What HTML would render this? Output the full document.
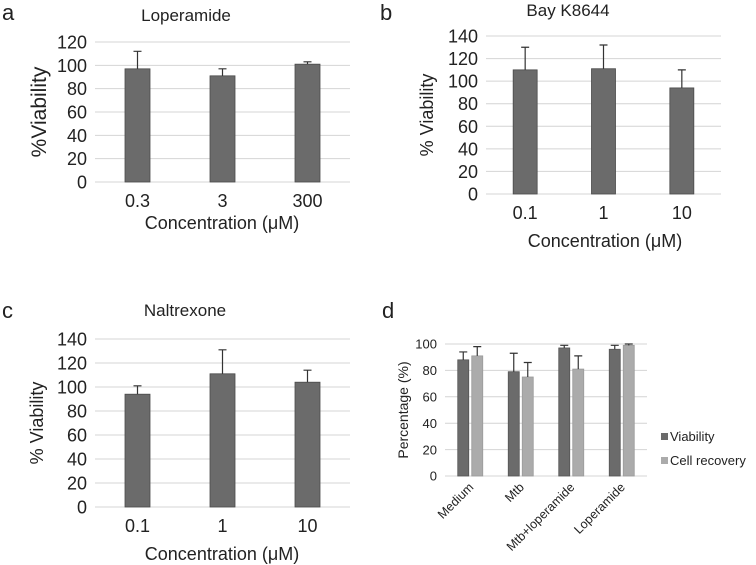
<!DOCTYPE html>
<html><head><meta charset="utf-8"><style>
body{margin:0;background:#fff;}
svg{display:block;font-family:"Liberation Sans",Arial,sans-serif;}
</style></head><body>
<svg id="fig" width="756" height="565"></svg>
<script>
const catsA=["0.3","3","300"];const valsA=[97,91,101];const errA=[112,97,103];
const catsB=["0.1","1","10"];const valsB=[110,111,94];const errB=[130,132,110];
const catsC=["0.1","1","10"];const valsC=[94,111,104];const errC=[101,131,114];
const catsD=["Medium","Mtb","Mtb+loperamide","Loperamide"];
const viabD=[88,79,97,96];const viabErrD=[94,93,99,99];
const recD=[91,75,81,99];const recErrD=[98,86,91,100];
const ticksA=[0,20,40,60,80,100,120];const ticksB=[0,20,40,60,80,100,120,140];const ticksD=[0,20,40,60,80,100];

const NS="http://www.w3.org/2000/svg";const svg=document.getElementById('fig');
function el(t,a,p){const e=document.createElementNS(NS,t);for(const k in a)e.setAttribute(k,a[k]);(p||svg).appendChild(e);return e;}
function txt(s,a,p){const e=el('text',a,p);e.textContent=s;return e;}

function panel(o){
  const g=el('g',{});
  
  
  const y=v=>o.y0-(v/o.max)*(o.y0-o.yTop);
  o.ticks.forEach(t=>{
    const l=el('line',{x1:o.x0,x2:o.x1,y1:y(t),y2:y(t),stroke:'#d4d4d4','stroke-width':1},g);
    
    
    const tl=txt(String(t),{x:o.x0-8,y:y(t)+o.tf*0.36,'text-anchor':'end','font-size':o.tf,fill:'#222'},g);
    
    
  });
  const n=o.cats.length,step=(o.x1-o.x0)/n;
  o.series.forEach((s,si)=>{
    o.cats.forEach((c,i)=>{
      const cx=o.x0+step*(i+0.5)+s.off;
      const b=el('rect',{x:cx-o.bw/2,y:y(s.vals[i]),width:o.bw,height:y(0)-y(s.vals[i]),fill:s.color,stroke:s.stroke,'stroke-width':0.8},g);
      
      
      const e=el('path',{d:`M${cx} ${y(s.vals[i])}V${y(s.err[i])}M${cx-4} ${y(s.err[i])}H${cx+4}`,stroke:'#333','stroke-width':1.2,fill:'none'},g);
      
      
    });
  });
  o.cats.forEach((c,i)=>{
    const cx=o.x0+step*(i+0.5);
    let t;
    if(o.rot){t=txt(c,{x:cx+4,y:o.y0+12,'text-anchor':'end','font-size':12.5,fill:'#222',transform:`rotate(-45 ${cx+4} ${o.y0+12})`},g);}
    else t=txt(c,{x:cx,y:o.y0+25,'text-anchor':'middle','font-size':o.tf,fill:'#222'},g);
    
    
  });
}

panel({name:'chart-loperamide',cats:catsA,ticks:ticksA,max:120,x0:95,x1:350,y0:182,yTop:42,bw:25,tf:18,
 series:[{key:'viability',vals:valsA,err:errA,color:'#6b6b6b',stroke:'#4a4a4a',off:0}]});
panel({name:'chart-bay-k8644',cats:catsB,ticks:ticksB,max:140,x0:486,x1:721,y0:194,yTop:36,bw:24,tf:18,
 series:[{key:'viability',vals:valsB,err:errB,color:'#6b6b6b',stroke:'#4a4a4a',off:0}]});
panel({name:'chart-naltrexone',cats:catsC,ticks:ticksB,max:140,x0:95,x1:350,y0:507,yTop:339,bw:25,tf:18,
 series:[{key:'viability',vals:valsC,err:errC,color:'#6b6b6b',stroke:'#4a4a4a',off:0}]});
panel({name:'chart-viability-recovery',cats:catsD,ticks:ticksD,max:100,x0:445,x1:647,y0:476,yTop:344,bw:11,tf:13,rot:true,
 series:[{key:'viability',vals:viabD,err:viabErrD,color:'#6b6b6b',stroke:'#555',off:-7},
         {key:'recovery',vals:recD,err:recErrD,color:'#ababab',stroke:'#999',off:7}]});

const labels=[
 ['a',2,20,22,'start','panel-label-a'],['b',380,20,22,'start','panel-label-b'],
 ['c',2,318,22,'start','panel-label-c'],['d',382,318,22,'start','panel-label-d'],
 ['Loperamide',186,21,17,'middle','title-loperamide'],['Bay K8644',568,16,17,'middle','title-bay-k8644'],
 ['Naltrexone',185,316,17,'middle','title-naltrexone'],
 ['Concentration (\u03bcM)',222,229,18,'middle','x-axis-title-a'],['Concentration (\u03bcM)',605,247,18,'middle','x-axis-title-b'],
 ['Concentration (\u03bcM)',222,560,18,'middle','x-axis-title-c'],
 ['Viability',670,441,13,'start','legend-viability-label'],['Cell recovery',670,465,13,'start','legend-recovery-label']];
labels.forEach(l=>{const t=txt(l[0],{x:l[1],y:l[2],'font-size':l[3],'text-anchor':l[4],fill:'#222'});
 
 });
const yt=[['%Viability',46,112,21,'y-axis-title-a'],['% Viability',433,115,18,'y-axis-title-b'],['% Viability',43,423,18,'y-axis-title-c'],['Percentage (%)',408,410,14,'y-axis-title-d']];
yt.forEach(l=>{const t=txt(l[0],{x:l[1],y:l[2],'font-size':l[3],'text-anchor':'middle',fill:'#222',transform:`rotate(-90 ${l[1]} ${l[2]})`});
 
 });
const s1=el('rect',{x:661,y:433,width:7,height:7,fill:'#6b6b6b'});


const s2=el('rect',{x:661,y:457,width:7,height:7,fill:'#ababab'});


</script>
</body></html>
